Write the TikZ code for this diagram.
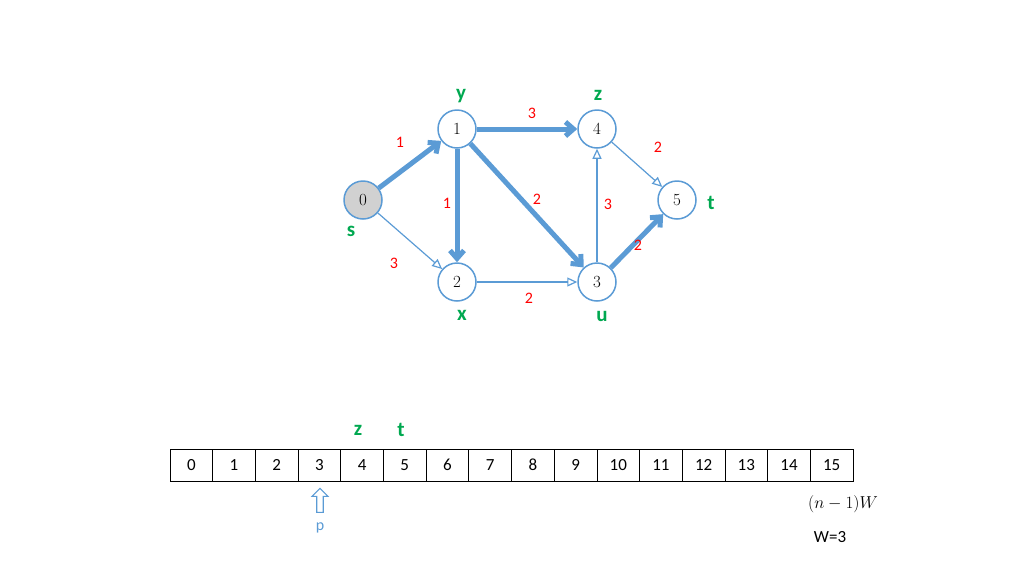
\documentclass[tikz,border=0pt]{standalone}
\usepackage{fontspec}
\setsansfont{Carlito}
\usetikzlibrary{arrows.meta,shapes.arrows}
\definecolor{eb}{RGB}{91,155,213}
\definecolor{gr}{RGB}{0,168,80}
\begin{document}
\begin{tikzpicture}[x=1pt,y=-1pt,
 vert/.style={circle,draw=eb,line width=1.5pt,fill=white,minimum size=38pt,inner sep=0pt,font=\fontsize{17}{19}\selectfont},
 thin/.style={draw=eb,line width=1.2pt,-{Stealth[length=10pt,width=9pt,inset=0pt,open]}},
 fat/.style={draw=eb,line width=5pt,-{Straight Barb[length=8pt,width=14pt]}},
 wl/.style={text=red,font=\sffamily\fontsize{16}{18}\selectfont},
 gl/.style={text=gr,font=\sffamily\bfseries\fontsize{21}{24}\selectfont},
 cell/.style={draw,line width=0.8pt,minimum width=42.69pt,minimum height=32pt,inner sep=0pt,font=\sffamily\fontsize{17}{19}\selectfont}]
\useasboundingbox (0,0) rectangle (1024,576);
\node[vert,fill=black!18] (n0) at (363,200) {0};
\node[vert] (n1) at (457,129) {1};
\node[vert] (n4) at (597,129) {4};
\node[vert] (n5) at (677,200) {5};
\node[vert] (n2) at (457,282) {2};
\node[vert] (n3) at (597,282) {3};
\draw[fat] (n0) -- (n1);
\draw[fat] (n1) -- (n4);
\draw[fat] (n1) -- (n2);
\draw[fat] (n1) -- (n3);
\draw[fat] (n3) -- (n5);
\draw[thin] (n0) -- (n2);
\draw[thin] (n2) -- (n3);
\draw[thin] (n3) -- (n4);
\draw[thin] (n4) -- (n5);
\node[wl] (w01) at (400,142) {1};
\node[wl] (w14) at (532,113) {3};
\node[wl] (w12) at (447,203) {1};
\node[wl] (w13) at (537,199) {2};
\node[wl] (w02) at (394,263) {3};
\node[wl] (w23) at (529,298) {2};
\node[wl] (w34) at (608,204) {3};
\node[wl] (w45) at (658,147) {2};
\node[wl] (w35) at (638,245) {2};
\node[gl] (ly) at (461,96) {y};
\node[gl] (lz) at (598,95) {z};
\node[gl] (lt) at (711,203) {t};
\node[gl] (ls) at (351,231) {s};
\node[gl] (lx) at (462,315) {x};
\node[gl] (lu) at (602,316) {u};
\foreach \i in {0,...,15} \node[cell] (c\i) at ({170+42.69*(\i+0.5)},465) {\i};
\node[gl] (az) at (358,430) {z};
\node[gl] (at) at (401,430) {t};
\node[single arrow,draw=eb,line width=1.2pt,shape border rotate=90,minimum height=24pt,minimum width=16pt,single arrow head extend=3pt,inner sep=1.5pt] (arr) at (320,502) {};
\node[text=eb,font=\sffamily\fontsize{16}{18}\selectfont] (p) at (320,528) {p};
\node[font=\fontsize{17}{19}\selectfont] (nw) at (843,504) {$(n-1)W$};
\node[font=\sffamily\fontsize{17}{19}\selectfont] (w3) at (830,537) {W=3};
\end{tikzpicture}
\end{document}
